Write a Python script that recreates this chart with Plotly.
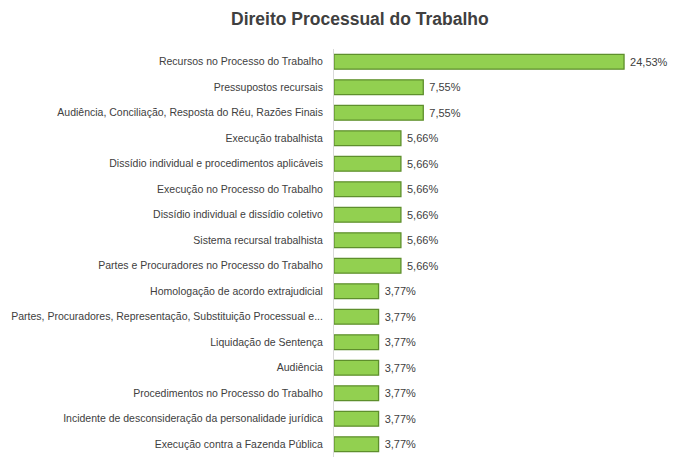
import plotly.graph_objects as go

topicos = [
    "Recursos no Processo do Trabalho",
    "Pressupostos recursais",
    "Audiência, Conciliação, Resposta do Réu, Razões Finais",
    "Execução trabalhista",
    "Dissídio individual e procedimentos aplicáveis",
    "Execução no Processo do Trabalho",
    "Dissídio individual e dissídio coletivo",
    "Sistema recursal trabalhista",
    "Partes e Procuradores no Processo do Trabalho",
    "Homologação de acordo extrajudicial",
    "Partes, Procuradores, Representação, Substituição Processual e...",
    "Liquidação de Sentença",
    "Audiência",
    "Procedimentos no Processo do Trabalho",
    "Incidente de desconsideração da personalidade jurídica",
    "Execução contra a Fazenda Pública",
]
percentuais = [24.53, 7.55, 7.55, 5.66, 5.66, 5.66, 5.66, 5.66, 5.66,
               3.77, 3.77, 3.77, 3.77, 3.77, 3.77, 3.77]

rotulos = [" " + f"{v:.2f}%".replace(".", ",") for v in percentuais]

fig = go.Figure(go.Bar(
    x=percentuais, y=topicos, orientation="h",
    text=rotulos, textposition="outside", cliponaxis=False,
    textfont=dict(size=11, color="#404040"),
    marker=dict(color="#92D050", line=dict(color="#5E8F2C", width=1.3)),
))

# the page puts the figure 8px in from the top-left corner, so size it to the rest
fig.update_layout(
    width=669, height=453,
    margin=dict(l=326, r=15, t=41, b=4),
    paper_bgcolor="white", plot_bgcolor="white",
    font=dict(family="Liberation Sans, Arial, sans-serif", size=10.5, color="#404040"),
    title=dict(text="<b>Direito Processual do Trabalho</b>", x=0.526, xanchor="center",
               y=0.989, yanchor="top", xref="container",
               font=dict(size=17.5, color="#404040")),
    bargap=0.42,
    showlegend=False,
)
fig.update_xaxes(range=[0, 27.74], visible=False)
fig.update_yaxes(autorange="reversed", showline=True, linecolor="#D9D9D9",
                 ticks="", ticklabelstandoff=8, showgrid=False, automargin=False)

fig.write_html("out.html")
